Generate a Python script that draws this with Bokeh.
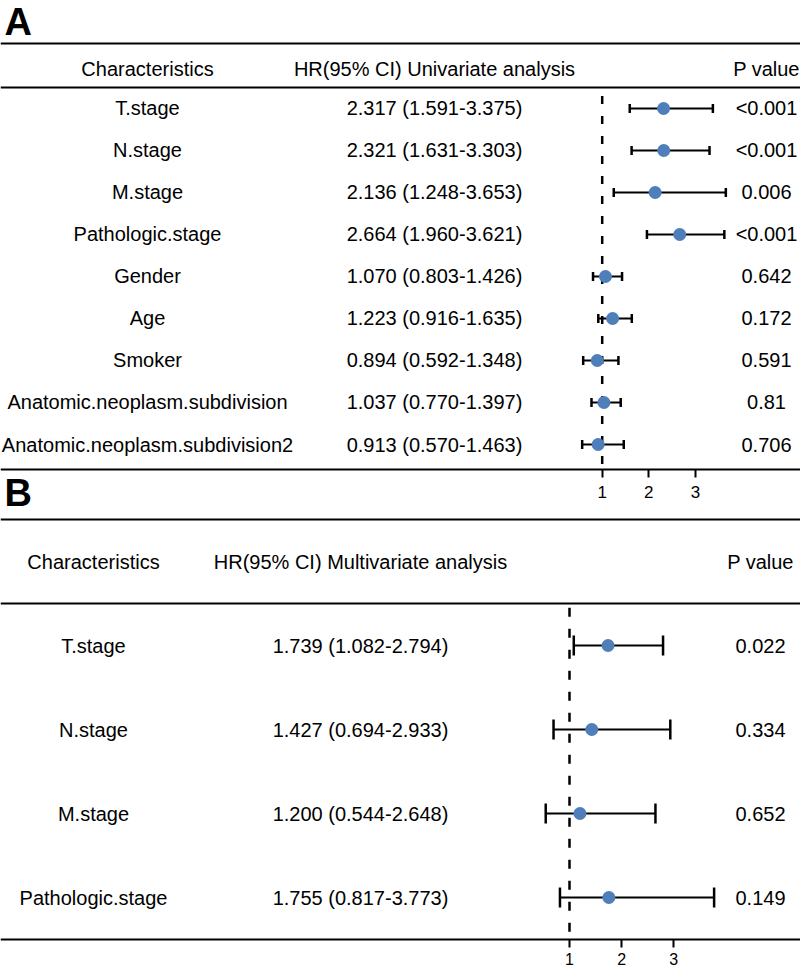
from bokeh.plotting import figure
from bokeh.models import Range1d, Span, Whisker, TeeHead, ColumnDataSource, FixedTicker
from bokeh.layouts import column
from bokeh.embed import file_html
from bokeh.resources import INLINE
from bokeh.core.properties import value

# ---------------- data ----------------
A_names = ["T.stage", "N.stage", "M.stage", "Pathologic.stage", "Gender", "Age",
           "Smoker", "Anatomic.neoplasm.subdivision", "Anatomic.neoplasm.subdivision2"]
A_hr = [2.317, 2.321, 2.136, 2.664, 1.070, 1.223, 0.894, 1.037, 0.913]
A_lo = [1.591, 1.631, 1.248, 1.960, 0.803, 0.916, 0.592, 0.770, 0.570]
A_hi = [3.375, 3.303, 3.653, 3.621, 1.426, 1.635, 1.348, 1.397, 1.463]
A_p = ["<0.001", "<0.001", "0.006", "<0.001", "0.642", "0.172", "0.591", "0.81", "0.706"]

B_names = ["T.stage", "N.stage", "M.stage", "Pathologic.stage"]
B_hr = [1.739, 1.427, 1.200, 1.755]
B_lo = [1.082, 0.694, 0.544, 0.817]
B_hi = [2.794, 2.933, 2.648, 3.773]
B_p = ["0.022", "0.334", "0.652", "0.149"]

ticks = [1, 2, 3]
panel_letters = ["A", "B"]
header_names = "Characteristics"
header_p = "P value"
A_header_hr = "HR(95% CI) Univariate analysis"
B_header_hr = "HR(95% CI) Multivariate analysis"

FONT = "Liberation Sans"
W = 800
DOT = "#4E7FBA"


def panel(names, hr, lo, hi, pvals, header_hr, one_px, unit_px, y_top, y_bot,
          height, axis_y, top_rule, header_y, sep_y, dash_start, cap,
          col_name, col_hr, col_p, tick_font, tick_out, standoff, dash):
    def px(v):
        return 1 + (v - one_px) / unit_px

    p = figure(width=W, height=height, x_range=Range1d(px(0), px(W)),
               y_range=Range1d(y_bot, y_top), output_backend="svg",
               toolbar_location=None, y_axis_location=None,
               min_border_left=0, min_border_right=0, min_border_top=0,
               min_border_bottom=0)
    p.outline_line_color = None
    p.grid.visible = False
    p.background_fill_color = "white"
    p.border_fill_color = "white"

    rows = list(range(len(names)))
    hr_txt = [f"{h:.3f} ({l:.3f}-{u:.3f})" for h, l, u in zip(hr, lo, hi)]

    for yy in (top_rule, sep_y):
        p.add_layout(Span(location=yy, dimension="width", line_color="black", line_width=2))

    txt = dict(text_font=value(FONT), text_font_size="20px", text_align="center",
               text_baseline="middle", text_color="black")
    p.text(x=[px(col_name), px(col_hr), px(col_p)], y=[header_y] * 3,
           text=[header_names, header_hr, header_p], **txt)
    p.text(x=[px(col_name)] * len(rows), y=rows, text=names, **txt)
    p.text(x=[px(col_hr)] * len(rows), y=rows, text=hr_txt, **txt)
    p.text(x=[px(col_p)] * len(rows), y=rows, text=pvals, **txt)

    p.segment(x0=[1], y0=[dash_start], x1=[1], y1=[axis_y], line_color="black",
              line_width=2.5, line_dash=dash)

    src = ColumnDataSource(dict(base=rows, lower=lo, upper=hi))
    wk = Whisker(base="base", lower="lower", upper="upper", dimension="width",
                 source=src, line_width=2, line_color="black", level="underlay",
                 upper_head=TeeHead(size=cap, line_width=2.5, line_color="black"),
                 lower_head=TeeHead(size=cap, line_width=2.5, line_color="black"))
    p.add_layout(wk)
    p.scatter(x=hr, y=rows, size=13, fill_color=DOT, line_color=None)

    ax = p.xaxis[0]
    ax.fixed_location = axis_y
    ax.ticker = FixedTicker(ticks=ticks)
    ax.major_label_text_font = FONT
    ax.major_label_text_font_size = tick_font
    ax.major_label_text_color = "black"
    ax.axis_line_width = 2
    ax.axis_line_color = "black"
    ax.major_tick_line_width = 2
    ax.major_tick_line_color = "black"
    ax.major_tick_out = tick_out
    ax.major_tick_in = 0
    ax.minor_tick_out = 0
    ax.minor_tick_in = 0
    ax.major_label_standoff = standoff
    return p, px


# panel A: rows every 42 px starting at 108 px; frame covers 0..517 px
pA, pxA = panel(A_names, A_hr, A_lo, A_hi, A_p, A_header_hr,
                one_px=601.7, unit_px=46.6, y_top=-2.571, y_bot=9.738,
                height=517, axis_y=8.595, top_rule=-1.55, header_y=-0.95,
                sep_y=-0.5, dash_start=-0.3, cap=9,
                col_name=147, col_hr=434, col_p=766,
                tick_font="17px", tick_out=8, standoff=9, dash="8 12")

# panel letters (both drawn in the upper figure, whose frame reaches the B rule)
pA.text(x=[pxA(4), pxA(4)], y=[-2.07, 9.155], text=panel_letters,
        text_font=value(FONT), text_font_size="38px", text_font_style="bold",
        text_align="left", text_baseline="middle", text_color="black")

# panel B: rows every 84 px starting at 645 px; frame covers 517..969 px
pB, pxB = panel(B_names, B_hr, B_lo, B_hi, B_p, B_header_hr,
                one_px=569.0, unit_px=52.15, y_top=-1.524, y_bot=3.857,
                height=452, axis_y=3.5, top_rule=-1.5, header_y=-0.99,
                sep_y=-0.5, dash_start=-0.45, cap=20,
                col_name=93, col_hr=360, col_p=760,
                tick_font="16px", tick_out=8, standoff=5, dash="9 12")

layout = column(pA, pB, spacing=0)
open("out.html", "w").write(file_html(layout, INLINE))
